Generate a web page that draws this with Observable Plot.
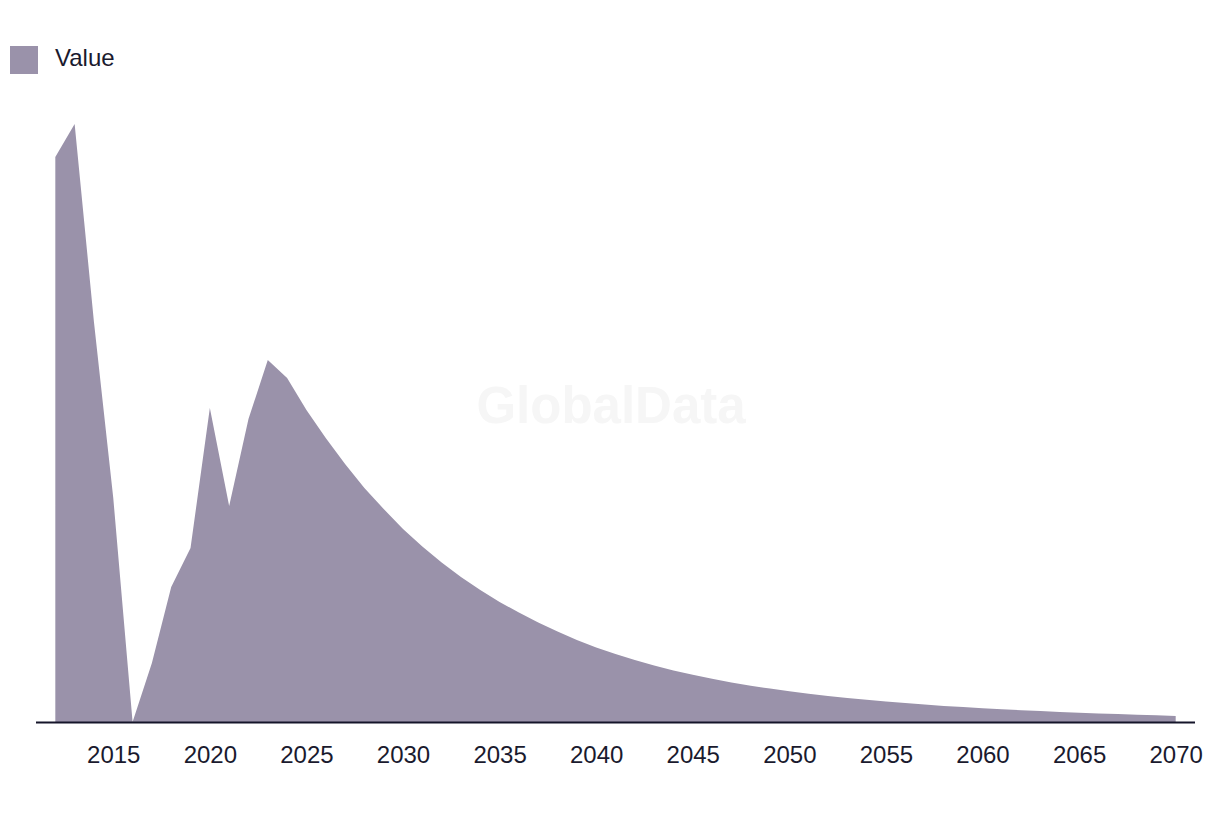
<!DOCTYPE html>
<html>
<head>
<meta charset="utf-8">
<script src="https://cdn.jsdelivr.net/npm/d3@7"></script>
<script src="https://cdn.jsdelivr.net/npm/@observablehq/plot@0.6"></script>
<style>
  html, body { margin: 0; padding: 0; background: #ffffff; }
  body { width: 1220px; height: 814px; overflow: hidden; font-family: "Liberation Sans", Arial, sans-serif; }
  #legend { height: 90px; position: relative; }
  #legend .sw { position: absolute; left: 10px; top: 46px; width: 28px; height: 28px; background: #9a92aa; }
  #legend .lb { position: absolute; left: 55px; top: 44px; font-size: 24px; line-height: 28px; color: #1a1a2e; }
  #chart svg { display: block; }
</style>
</head>
<body>
<div id="legend"><div class="sw"></div><div class="lb">Value</div></div>
<div id="chart"></div>
<script>
const years = [
  2012, 2013, 2014, 2015, 2016, 2017, 2018, 2019, 2020, 2021,
  2022, 2023, 2024, 2025, 2026, 2027, 2028, 2029, 2030, 2031,
  2032, 2033, 2034, 2035, 2036, 2037, 2038, 2039, 2040, 2041,
  2042, 2043, 2044, 2045, 2046, 2047, 2048, 2049, 2050, 2051,
  2052, 2053, 2054, 2055, 2056, 2057, 2058, 2059, 2060, 2061,
  2062, 2063, 2064, 2065, 2066, 2067, 2068, 2069, 2070
];
const values = [
  565, 598, 400, 224, 0, 59, 135, 174, 314, 216,
  303, 362, 344, 312, 284, 258, 234, 213, 193, 175.5,
  159.5, 145, 132, 120, 109.5, 99.5, 90.5, 82, 74.5, 68,
  62, 56.5, 51.5, 47.2, 43.2, 39.6, 36.3, 33.4, 30.7, 28.2,
  26, 24, 22.2, 20.5, 18.9, 17.4, 16.1, 14.9, 13.8, 12.8,
  11.8, 10.9, 10.1, 9.3, 8.6, 7.9, 7.3, 6.7, 6.1
];
const tickYears = [2015, 2020, 2025, 2030, 2035, 2040, 2045, 2050, 2055, 2060, 2065, 2070];
const seriesName = "Value";
const watermark = "GlobalData";

const data = years.map((year, i) => ({year, value: values[i]}));

const chart = Plot.plot({
  width: 1220,
  height: 724,
  marginLeft: 36,
  marginRight: 25,
  marginTop: 34,
  marginBottom: 92,
  style: { fontFamily: "Liberation Sans, Arial, sans-serif", fontSize: "24px", color: "#1a1a2e", background: "#ffffff" },
  x: { type: "linear", domain: [2011, 2071], label: null },
  y: { domain: [0, 598], axis: null },
  marks: [
    Plot.text([watermark], { frameAnchor: "middle", dx: -5, dy: -17, fontSize: 51, fontWeight: "bold", fill: "#f6f6f6" }),
    Plot.areaY(data, { x: "year", y: "value", fill: "#9a92aa" }),
    Plot.ruleY([0], { stroke: "#15152a", strokeWidth: 2 }),
    Plot.axisX({ ticks: tickYears, tickFormat: "d", tickSize: 0, tickPadding: 23, fontSize: 24, fill: "#1a1a2e", label: null })
  ]
});
document.getElementById("chart").appendChild(chart);
</script>
</body>
</html>
